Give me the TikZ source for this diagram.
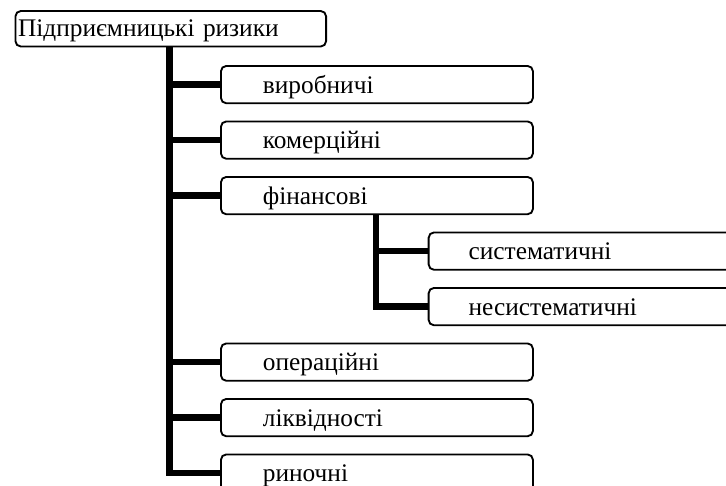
\documentclass[tikz,border=0pt]{standalone}
\usepackage{fontspec}
\setmainfont{Liberation Serif}
\begin{document}
\begin{tikzpicture}[x=0.75pt,y=-0.75pt,
  box/.style={draw, line width=1.4pt, rounded corners=4pt, anchor=west,
    font=\fontsize{19}{22}\selectfont, align=left, text height=13pt, text depth=0pt,
    minimum height=28pt, inner ysep=0pt},
  mainbox/.style={box, text width=171pt, inner xsep=31.5pt},
  subbox/.style={box, text width=180pt, inner xsep=30pt},
  rootbox/.style={box, text width=229pt, inner xsep=2pt, text height=12pt, minimum height=26.6pt},
  conn/.style={line width=4.9pt, line join=miter}]
\useasboundingbox (0,0) rectangle (726,486);
\clip (0,0) rectangle (726,486);
\node[rootbox] (root) at (14.5,28.75) {Підприємницькі ризики};
\node[mainbox] (b1) at (220,84.6) {виробничі};
\node[mainbox] (b2) at (220,140.1) {комерційні};
\node[mainbox] (b3) at (220,195.6) {фінансові};
\node[subbox] (s1) at (427.7,251.1) {систематичні};
\node[subbox] (s2) at (427.7,306.6) {несистематичні};
\node[mainbox] (b4) at (220,362.1) {операційні};
\node[mainbox] (b5) at (220,417.6) {ліквідності};
\node[mainbox] (b6) at (220,473.1) {риночні};
\coordinate (tr) at (169.5,0);
\coordinate (sr) at (376,0);
\foreach \c in {b1,b2,b3,b4,b5,b6}
  \draw[conn] (root.south -| tr) |- (\c.west);
\foreach \c in {s1,s2}
  \draw[conn] (b3.south -| sr) |- (\c.west);
\end{tikzpicture}
\end{document}
